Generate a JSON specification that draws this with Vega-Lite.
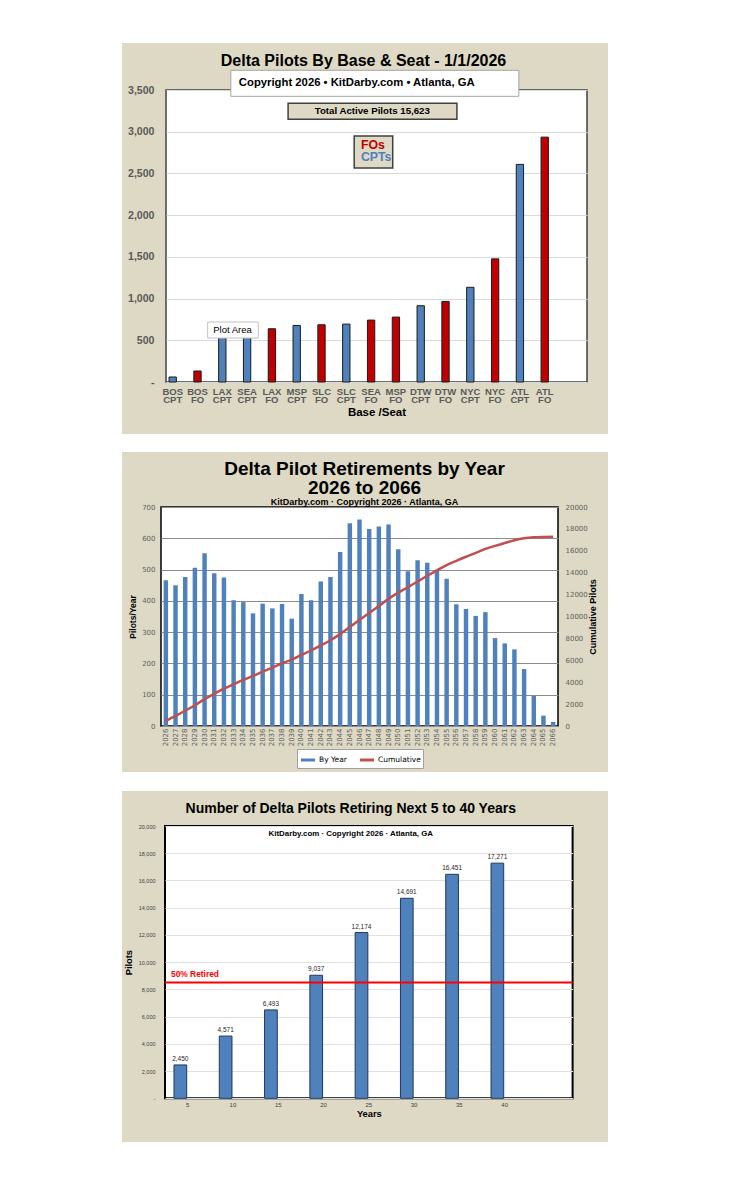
{
  "$schema": "https://vega.github.io/schema/vega-lite/v6.json",
  "background": "#ddd9c4",
  "padding": 0,
  "config": {
    "font": "Liberation Sans",
    "concat": {"spacing": 0},
    "title": {"fontWeight": "bold", "color": "black"},
    "axis": {"titleFontWeight": "bold", "titleColor": "black"},
    "legend": {"layout": {"bottom": {"anchor": "middle"}}}
  },
  "datasets": {
    "bases": [
      {"base_seat": "BOS CPT", "seat": "CPT", "pilots": 60},
      {"base_seat": "BOS FO", "seat": "FO", "pilots": 132},
      {"base_seat": "LAX CPT", "seat": "CPT", "pilots": 582},
      {"base_seat": "SEA CPT", "seat": "CPT", "pilots": 599},
      {"base_seat": "LAX FO", "seat": "FO", "pilots": 638},
      {"base_seat": "MSP CPT", "seat": "CPT", "pilots": 678},
      {"base_seat": "SLC FO", "seat": "FO", "pilots": 686},
      {"base_seat": "SLC CPT", "seat": "CPT", "pilots": 694},
      {"base_seat": "SEA FO", "seat": "FO", "pilots": 742},
      {"base_seat": "MSP FO", "seat": "FO", "pilots": 778},
      {"base_seat": "DTW CPT", "seat": "CPT", "pilots": 914},
      {"base_seat": "DTW FO", "seat": "FO", "pilots": 966},
      {"base_seat": "NYC CPT", "seat": "CPT", "pilots": 1135},
      {"base_seat": "NYC FO", "seat": "FO", "pilots": 1476},
      {"base_seat": "ATL CPT", "seat": "CPT", "pilots": 2608},
      {"base_seat": "ATL FO", "seat": "FO", "pilots": 2935}
    ],
    "retire": [
      {"year": 2026, "by_year": 466, "cumulative": 466},
      {"year": 2027, "by_year": 450, "cumulative": 916},
      {"year": 2028, "by_year": 476, "cumulative": 1392},
      {"year": 2029, "by_year": 506, "cumulative": 1898},
      {"year": 2030, "by_year": 552, "cumulative": 2450},
      {"year": 2031, "by_year": 488, "cumulative": 2938},
      {"year": 2032, "by_year": 475, "cumulative": 3413},
      {"year": 2033, "by_year": 402, "cumulative": 3815},
      {"year": 2034, "by_year": 396, "cumulative": 4211},
      {"year": 2035, "by_year": 360, "cumulative": 4571},
      {"year": 2036, "by_year": 391, "cumulative": 4962},
      {"year": 2037, "by_year": 376, "cumulative": 5338},
      {"year": 2038, "by_year": 390, "cumulative": 5728},
      {"year": 2039, "by_year": 343, "cumulative": 6071},
      {"year": 2040, "by_year": 422, "cumulative": 6493},
      {"year": 2041, "by_year": 402, "cumulative": 6895},
      {"year": 2042, "by_year": 462, "cumulative": 7357},
      {"year": 2043, "by_year": 476, "cumulative": 7833},
      {"year": 2044, "by_year": 556, "cumulative": 8389},
      {"year": 2045, "by_year": 648, "cumulative": 9037},
      {"year": 2046, "by_year": 660, "cumulative": 9697},
      {"year": 2047, "by_year": 630, "cumulative": 10327},
      {"year": 2048, "by_year": 638, "cumulative": 10965},
      {"year": 2049, "by_year": 644, "cumulative": 11609},
      {"year": 2050, "by_year": 565, "cumulative": 12174},
      {"year": 2051, "by_year": 495, "cumulative": 12669},
      {"year": 2052, "by_year": 530, "cumulative": 13199},
      {"year": 2053, "by_year": 522, "cumulative": 13721},
      {"year": 2054, "by_year": 499, "cumulative": 14220},
      {"year": 2055, "by_year": 471, "cumulative": 14691},
      {"year": 2056, "by_year": 389, "cumulative": 15080},
      {"year": 2057, "by_year": 374, "cumulative": 15454},
      {"year": 2058, "by_year": 352, "cumulative": 15806},
      {"year": 2059, "by_year": 364, "cumulative": 16170},
      {"year": 2060, "by_year": 281, "cumulative": 16451},
      {"year": 2061, "by_year": 264, "cumulative": 16715},
      {"year": 2062, "by_year": 245, "cumulative": 16960},
      {"year": 2063, "by_year": 182, "cumulative": 17142},
      {"year": 2064, "by_year": 96, "cumulative": 17238},
      {"year": 2065, "by_year": 33, "cumulative": 17271},
      {"year": 2066, "by_year": 13, "cumulative": 17284}
    ],
    "spans": [
      {"years": 5, "pilots": 2450},
      {"years": 10, "pilots": 4571},
      {"years": 15, "pilots": 6493},
      {"years": 20, "pilots": 9037},
      {"years": 25, "pilots": 12174},
      {"years": 30, "pilots": 14691},
      {"years": 35, "pilots": 16451},
      {"years": 40, "pilots": 17271}
    ]
  },
  "resolve": {"scale": {"color": "independent"}, "legend": {"color": "independent"}},
  "hconcat": [
    {"width": 122, "height": 1200, "data": {"values": []}, "mark": {"type": "text", "text": ""}, "view": {"fill": "white", "stroke": null}},
    {
      "resolve": {"scale": {"color": "independent"}, "legend": {"color": "independent"}},
      "vconcat": [
        {"width": 486, "height": 43, "data": {"values": []}, "mark": {"type": "text", "text": ""}, "view": {"fill": "white", "stroke": null}},
        {
          "resolve": {"scale": {"color": "independent"}, "legend": {"color": "independent"}},
          "vconcat": [
            {"width": 1, "height": 9, "data": {"values": []}, "mark": {"type": "text", "text": ""}, "view": {"stroke": null}},
            {
              "resolve": {"scale": {"color": "independent"}, "legend": {"color": "independent"}},
              "hconcat": [
                {"width": 4, "height": 10, "data": {"values": []}, "mark": {"type": "text", "text": ""}, "view": {"stroke": null}},
                {
                  "width": 421,
                  "height": 292,
                  "view": {"fill": "white", "stroke": "#404040", "strokeWidth": 1.5},
                  "title": {"text": "Delta Pilots By Base & Seat - 1/1/2026", "fontSize": 16, "offset": 1, "dx": -13},
                  "data": {"name": "bases"},
                  "layer": [
                    {
                      "mark": {"type": "bar", "stroke": "#1a1a1a", "strokeWidth": 1},
                      "encoding": {
                        "x": {"field": "base_seat", "type": "nominal", "sort": null,
                          "scale": {"paddingInner": 0.705, "paddingOuter": 0.84, "align": 0.073},
                          "axis": {"title": "Base /Seat", "labelAngle": 0, "labelExpr": "split(datum.label, ' ')", "labelFontSize": 9.5, "labelFontWeight": "bold", "labelColor": "#595959", "labelLineHeight": 8.7, "labelPadding": 4, "ticks": false, "domain": false, "titleFontSize": 11.5, "titlePadding": 2}},
                        "y": {"field": "pilots", "type": "quantitative",
                          "scale": {"domain": [0, 3500], "nice": false},
                          "axis": {"title": null, "values": [0, 500, 1000, 1500, 2000, 2500, 3000, 3500], "labelExpr": "datum.value === 0 ? '-' : format(datum.value, ',')", "labelFontSize": 10.6, "labelFontWeight": "bold", "labelColor": "#595959", "labelPadding": 12, "ticks": false, "domain": false, "gridColor": "#d9d9d9"}},
                        "color": {"field": "seat", "type": "nominal", "scale": {"domain": ["CPT", "FO"], "range": ["#4f81bd", "#c00000"]}, "legend": null}
                      }
                    },
                    {
                      "data": {"values": [{"t": "Copyright 2026 • KitDarby.com • Atlanta, GA"}]},
                      "mark": {"type": "rect", "fill": "white", "stroke": "#a6a6a6", "strokeWidth": 1},
                      "encoding": {
                        "x": {"datum": 0.154, "type": "quantitative", "scale": {"domain": [0, 1]}, "axis": null},
                        "x2": {"datum": 0.838},
                        "y": {"datum": 3736, "type": "quantitative"},
                        "y2": {"datum": 3424}
                      }
                    },
                    {
                      "data": {"values": [{"t": "Copyright 2026 • KitDarby.com • Atlanta, GA"}]},
                      "mark": {"type": "text", "align": "left", "fontSize": 11.3, "fontWeight": "bold", "color": "black"},
                      "encoding": {
                        "x": {"datum": 0.173, "type": "quantitative", "scale": {"domain": [0, 1]}, "axis": null},
                        "y": {"datum": 3580, "type": "quantitative"},
                        "text": {"field": "t"}
                      }
                    },
                    {
                      "data": {"values": [{"t": "Total Active Pilots 15,623"}]},
                      "mark": {"type": "rect", "fill": "#ddd9c4", "stroke": "#404040", "strokeWidth": 1.5},
                      "encoding": {
                        "x": {"datum": 0.29, "type": "quantitative", "scale": {"domain": [0, 1]}, "axis": null},
                        "x2": {"datum": 0.691},
                        "y": {"datum": 3340, "type": "quantitative"},
                        "y2": {"datum": 3148}
                      }
                    },
                    {
                      "data": {"values": [{"t": "Total Active Pilots 15,623"}]},
                      "mark": {"type": "text", "fontSize": 9.7, "fontWeight": "bold", "color": "black"},
                      "encoding": {
                        "x": {"datum": 0.49, "type": "quantitative", "scale": {"domain": [0, 1]}, "axis": null},
                        "y": {"datum": 3244, "type": "quantitative"},
                        "text": {"field": "t"}
                      }
                    },
                    {
                      "data": {"values": [{"t": "FOs"}]},
                      "mark": {"type": "rect", "fill": "#ddd9c4", "stroke": "#404040", "strokeWidth": 1.5},
                      "encoding": {
                        "x": {"datum": 0.447, "type": "quantitative", "scale": {"domain": [0, 1]}, "axis": null},
                        "x2": {"datum": 0.5385},
                        "y": {"datum": 2949, "type": "quantitative"},
                        "y2": {"datum": 2565}
                      }
                    },
                    {
                      "data": {"values": [{"t": "FOs"}]},
                      "mark": {"type": "text", "align": "left", "fontSize": 12.3, "fontWeight": "bold", "color": "#c00000"},
                      "encoding": {
                        "x": {"datum": 0.463, "type": "quantitative", "scale": {"domain": [0, 1]}, "axis": null},
                        "y": {"datum": 2843, "type": "quantitative"},
                        "text": {"field": "t"}
                      }
                    },
                    {
                      "data": {"values": [{"t": "CPTs"}]},
                      "mark": {"type": "text", "align": "left", "fontSize": 12.3, "fontWeight": "bold", "color": "#4f81bd"},
                      "encoding": {
                        "x": {"datum": 0.463, "type": "quantitative", "scale": {"domain": [0, 1]}, "axis": null},
                        "y": {"datum": 2699, "type": "quantitative"},
                        "text": {"field": "t"}
                      }
                    },
                    {
                      "data": {"values": [{"t": "Plot Area"}]},
                      "mark": {"type": "rect", "fill": "white", "stroke": "#c0c0c0", "strokeWidth": 1},
                      "encoding": {
                        "x": {"datum": 0.099, "type": "quantitative", "scale": {"domain": [0, 1]}, "axis": null},
                        "x2": {"datum": 0.2192},
                        "y": {"datum": 719, "type": "quantitative"},
                        "y2": {"datum": 527}
                      }
                    },
                    {
                      "data": {"values": [{"t": "Plot Area"}]},
                      "mark": {"type": "text", "fontSize": 9.5, "color": "black"},
                      "encoding": {
                        "x": {"datum": 0.158, "type": "quantitative", "scale": {"domain": [0, 1]}, "axis": null},
                        "y": {"datum": 626, "type": "quantitative"},
                        "text": {"field": "t"}
                      }
                    }
                  ],
                  "resolve": {"scale": {"x": "independent"}}
                }
              ]
            },
            {"width": 1, "height": 14.4, "data": {"values": []}, "mark": {"type": "text", "text": ""}, "view": {"stroke": null}}
          ]
        },
        {"width": 486, "height": 18, "data": {"values": []}, "mark": {"type": "text", "text": ""}, "view": {"fill": "white", "stroke": null}},
        {
          "resolve": {"scale": {"color": "independent"}, "legend": {"color": "independent"}},
          "vconcat": [
            {"width": 1, "height": 5.5, "data": {"values": []}, "mark": {"type": "text", "text": ""}, "view": {"stroke": null}},
            {
              "resolve": {"scale": {"color": "independent"}, "legend": {"color": "independent"}},
              "hconcat": [
                {"width": 4.2, "height": 10, "data": {"values": []}, "mark": {"type": "text", "text": ""}, "view": {"stroke": null}},
                {
                  "width": 397,
                  "height": 219,
                  "view": {"fill": "white", "stroke": "black", "strokeWidth": 1.5},
                  "title": {"text": ["Delta Pilot Retirements by Year", "2026 to 2066"], "fontSize": 19, "lineHeight": 19, "subtitle": "KitDarby.com · Copyright 2026 · Atlanta, GA", "subtitleFontSize": 9, "subtitleFontWeight": "bold", "subtitleColor": "black", "subtitlePadding": 0, "offset": -3.5, "dx": 5},
                  "data": {"name": "retire"},
                  "encoding": {
                    "x": {"field": "year", "type": "ordinal",
                      "scale": {"paddingInner": 0.54, "paddingOuter": 0.27},
                      "axis": {"title": null, "labelAngle": -90, "labelFont": "DejaVu Sans", "labelFontSize": 7, "labelColor": "#606060", "ticks": false, "domain": false, "labelPadding": 2}}
                  },
                  "layer": [
                    {
                      "mark": {"type": "bar"},
                      "encoding": {
                        "y": {"field": "by_year", "type": "quantitative",
                          "scale": {"domain": [0, 700], "nice": false},
                          "axis": {"title": "Pilots/Year", "titleFontSize": 8.5, "titlePadding": 4, "values": [0, 100, 200, 300, 400, 500, 600, 700], "format": "d", "labelFont": "DejaVu Sans", "labelFontSize": 7, "labelColor": "#606060", "labelPadding": 6, "ticks": false, "domain": false, "gridColor": "#8c8c8c", "gridWidth": 1}},
                        "color": {"datum": "By Year",
                          "scale": {"domain": ["By Year", "Cumulative"], "range": ["#4f81bd", "#c0504d"]},
                          "legend": {"orient": "bottom", "direction": "horizontal", "title": null, "symbolType": "stroke", "symbolStrokeWidth": 3, "symbolSize": 200, "labelFont": "DejaVu Sans", "labelFontSize": 7.5, "labelColor": "black", "fillColor": "white", "strokeColor": "#a0a0a0", "padding": 2, "offset": 3, "columnPadding": 6, "labelOffset": 2}}
                      }
                    },
                    {
                      "mark": {"type": "line", "strokeWidth": 2.5, "interpolate": "monotone"},
                      "encoding": {
                        "y": {"field": "cumulative", "type": "quantitative",
                          "scale": {"domain": [0, 20000], "nice": false},
                          "axis": {"orient": "right", "title": "Cumulative Pilots", "titleAngle": 270, "titleFontSize": 9, "titlePadding": 10, "values": [0, 2000, 4000, 6000, 8000, 10000, 12000, 14000, 16000, 18000, 20000], "format": "d", "labelFont": "DejaVu Sans", "labelFontSize": 7, "labelColor": "#606060", "labelPadding": 7, "grid": false, "ticks": false, "domain": false}},
                        "color": {"datum": "Cumulative"}
                      }
                    }
                  ],
                  "resolve": {"scale": {"y": "independent"}}
                }
              ]
            },
            {"width": 1, "height": 1.5, "data": {"values": []}, "mark": {"type": "text", "text": ""}, "view": {"stroke": null}}
          ]
        },
        {"width": 486, "height": 19, "data": {"values": []}, "mark": {"type": "text", "text": ""}, "view": {"fill": "white", "stroke": null}},
        {
          "resolve": {"scale": {"color": "independent"}, "legend": {"color": "independent"}},
          "vconcat": [
            {"width": 1, "height": 10, "data": {"values": []}, "mark": {"type": "text", "text": ""}, "view": {"stroke": null}},
            {
              "resolve": {"scale": {"color": "independent"}, "legend": {"color": "independent"}},
              "hconcat": [
                {"width": 1, "height": 10, "data": {"values": []}, "mark": {"type": "text", "text": ""}, "view": {"stroke": null}},
                {
                  "width": 407.6,
                  "height": 272.3,
                  "view": {"fill": "white", "stroke": "black", "strokeWidth": 2},
                  "title": {"text": "Number of Delta Pilots Retiring Next 5 to 40 Years", "fontSize": 14, "subtitle": "KitDarby.com · Copyright 2026 · Atlanta, GA", "subtitleFontSize": 7.9, "subtitleFontWeight": "bold", "subtitleColor": "black", "subtitlePadding": 14, "offset": -14, "dx": -18},
                  "layer": [
                    {
                      "data": {"name": "spans"},
                      "encoding": {
                        "x": {"field": "years", "type": "ordinal",
                          "scale": {"domain": [5, 10, 15, 20, 25, 30, 35, 40, 45], "paddingInner": 0, "paddingOuter": 0},
                          "axis": {"title": "Years", "titleFontSize": 9.3, "titlePadding": 2, "labelExpr": "datum.value == 45 ? '' : datum.label", "labelAngle": 0, "labelFontSize": 6, "labelColor": "#404040", "labelPadding": 3, "ticks": false, "domain": false}},
                        "y": {"field": "pilots", "type": "quantitative",
                          "scale": {"domain": [0, 20000], "nice": false},
                          "axis": {"title": "Pilots", "titleFontSize": 9.3, "titlePadding": 5, "values": [0, 2000, 4000, 6000, 8000, 10000, 12000, 14000, 16000, 18000, 20000], "labelExpr": "datum.value === 0 ? '-' : format(datum.value, ',')", "labelFontSize": 5.5, "labelColor": "#404040", "labelPadding": 10, "labelOverlap": false, "ticks": false, "domain": false, "gridColor": "#e0e0e0"}}
                      },
                      "layer": [
                        {
                          "mark": {"type": "bar", "width": 12.7, "xOffset": -7.3, "fill": "#4f81bd", "stroke": "#1f3864", "strokeWidth": 1}
                        },
                        {
                          "mark": {"type": "text", "xOffset": -7.3, "baseline": "bottom", "dy": -3, "fontSize": 6.5, "color": "#262626"},
                          "encoding": {
                            "text": {"field": "pilots", "type": "quantitative", "format": ","}
                          }
                        }
                      ]
                    },
                    {
                      "data": {"values": [{"t": "50% Retired"}]},
                      "mark": {"type": "rule", "color": "#ff0000", "strokeWidth": 2},
                      "encoding": {"y": {"datum": 8500, "type": "quantitative",
                        "axis": {"title": "Pilots", "titleFontSize": 9.3, "titlePadding": 5, "values": [0, 2000, 4000, 6000, 8000, 10000, 12000, 14000, 16000, 18000, 20000], "labelExpr": "datum.value === 0 ? '-' : format(datum.value, ',')", "labelFontSize": 5.5, "labelColor": "#404040", "labelPadding": 10, "labelOverlap": false, "ticks": false, "domain": false, "gridColor": "#e0e0e0"}}}
                    },
                    {
                      "data": {"values": [{"t": "50% Retired"}]},
                      "mark": {"type": "text", "align": "left", "baseline": "bottom", "dx": 6, "dy": -4, "fontSize": 8.4, "fontWeight": "bold", "color": "#ff0000"},
                      "encoding": {
                        "x": {"datum": 5, "type": "ordinal", "bandPosition": 0,
                          "axis": {"title": "Years", "titleFontSize": 9.3, "titlePadding": 2, "labelExpr": "datum.value == 45 ? '' : datum.label", "labelAngle": 0, "labelFontSize": 6, "labelColor": "#404040", "labelPadding": 3, "ticks": false, "domain": false}},
                        "y": {"datum": 8500, "type": "quantitative",
                          "axis": {"title": "Pilots", "titleFontSize": 9.3, "titlePadding": 5, "values": [0, 2000, 4000, 6000, 8000, 10000, 12000, 14000, 16000, 18000, 20000], "labelExpr": "datum.value === 0 ? '-' : format(datum.value, ',')", "labelFontSize": 5.5, "labelColor": "#404040", "labelPadding": 10, "labelOverlap": false, "ticks": false, "domain": false, "gridColor": "#e0e0e0"}},
                        "text": {"field": "t"}
                      }
                    }
                  ]
                }
              ]
            },
            {"width": 1, "height": 21.7, "data": {"values": []}, "mark": {"type": "text", "text": ""}, "view": {"stroke": null}}
          ]
        },
        {"width": 486, "height": 59, "data": {"values": []}, "mark": {"type": "text", "text": ""}, "view": {"fill": "white", "stroke": null}}
      ]
    },
    {"width": 121, "height": 1200, "data": {"values": []}, "mark": {"type": "text", "text": ""}, "view": {"fill": "white", "stroke": null}}
  ]
}
